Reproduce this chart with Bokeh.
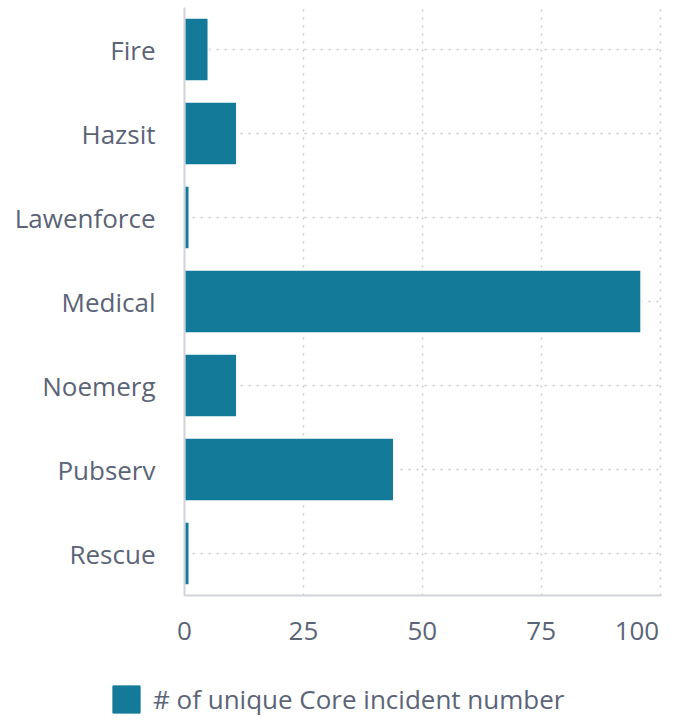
from bokeh.plotting import figure
from bokeh.models import FactorRange, Range1d, Legend, LegendItem, FixedTicker, ColumnDataSource
from bokeh.layouts import column, row
from bokeh.embed import file_html
from bokeh.resources import INLINE

categories = ["Fire", "Hazsit", "Lawenforce", "Medical", "Noemerg", "Pubserv", "Rescue"]
counts = [5, 11, 1, 96, 11, 44, 1]
x_ticks = [0, 25, 50, 75, 100]
series_name = "# of unique Core incident number"

BAR = "#147a9a"
TXT = "#5b6477"
FONT = "Open Sans"

source = ColumnDataSource(dict(cat=categories, val=counts))

p = figure(width=679, height=650, output_backend="svg", toolbar_location=None,
           y_range=FactorRange(factors=list(reversed(categories))),
           x_range=Range1d(0, 100.3),
           min_border_left=184, min_border_right=18, min_border_top=7, min_border_bottom=53)
p.outline_line_color = None

r = p.hbar(y="cat", right="val", left=0, height=0.75, source=source,
           fill_color=BAR, line_color="white", line_width=1.5)

p.xaxis.ticker = FixedTicker(ticks=x_ticks)
p.xaxis.major_label_overrides = {100: "100" + "\u00a0" * 3}
for ax in (p.xaxis[0], p.yaxis[0]):
    ax.axis_line_color = "#d0d3d9"
    ax.axis_line_width = 2
    ax.major_tick_line_color = None
    ax.minor_tick_line_color = None
    ax.major_label_text_font = FONT
    ax.major_label_text_font_size = "26px"
    ax.major_label_text_color = TXT
p.yaxis.major_label_standoff = 23
p.xaxis.major_label_standoff = 10

p.xgrid.ticker = FixedTicker(ticks=[25, 50, 75, 100])
for g in (p.xgrid[0], p.ygrid[0]):
    g.grid_line_color = "#c8c8c8"
    g.grid_line_dash = "2 6"
    g.grid_line_width = 1.5

# legend strip
lg = figure(width=679, height=70, output_backend="svg", toolbar_location=None,
            x_range=Range1d(0, 1), y_range=Range1d(0, 1),
            min_border=0, min_border_left=0, min_border_right=0,
            min_border_top=0, min_border_bottom=0,
            x_axis_type=None, y_axis_type=None)
lg.outline_line_color = None
lg.grid.visible = False
nan = float("nan")
lsrc = ColumnDataSource(dict(l=[nan], r=[nan], b=[nan], t=[nan]))
lr = lg.quad(left="l", right="r", bottom="b", top="t", source=lsrc,
             fill_color=BAR, line_color=BAR)

legend = Legend(items=[LegendItem(label=series_name, renderers=[lr])],
                location=(109, 3), orientation="horizontal",
                glyph_width=34, glyph_height=34, label_standoff=10,
                padding=0, margin=0, border_line_color=None, background_fill_alpha=0,
                label_text_font=FONT, label_text_font_size="26px", label_text_color=TXT)
lg.add_layout(legend, "center")

layout = column(p, row(lg), spacing=0)
open("out.html", "w").write(file_html(layout, INLINE))
